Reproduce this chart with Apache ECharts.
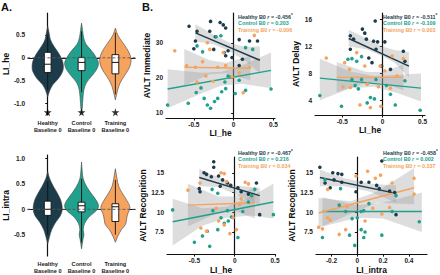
<!DOCTYPE html>
<html>
<head>
<meta charset="utf-8">
<script src="https://cdn.jsdelivr.net/npm/echarts@6/dist/echarts.min.js"></script>
<style>
html, body { margin: 0; padding: 0; background: #fff; }
#chart { width: 440px; height: 275px; }
</style>
</head>
<body>
<div id="chart"></div>
<script>
var FONT = '"Liberation Sans", Arial, sans-serif';
var groups = ['Healthy\nBaseline 0', 'Control\nBaseline 0', 'Training\nBaseline 0'];
var groupNames = ['Healthy', 'Control', 'Training'];
var colors = ['#1d3c4b', '#21a08d', '#f6a35e'];

// violin profiles: [y, half width] from top to bottom
var heProfiles = [
  [[0.69,0],[0.55,0.04],[0.4,0.08],[0.28,0.16],[0.15,0.28],[0,0.4],[-0.15,0.46],[-0.3,0.44],[-0.45,0.32],[-0.58,0.16],[-0.7,0.07],[-0.85,0]],
  [[0.76,0],[0.6,0.03],[0.45,0.06],[0.3,0.13],[0.15,0.3],[0,0.44],[-0.12,0.5],[-0.25,0.45],[-0.4,0.3],[-0.55,0.14],[-0.7,0.07],[-0.9,0.04],[-1.1,0.02],[-1.22,0]],
  [[0.65,0],[0.5,0.07],[0.35,0.2],[0.2,0.34],[0.05,0.44],[-0.1,0.46],[-0.25,0.39],[-0.4,0.26],[-0.55,0.14],[-0.7,0.07],[-0.92,0]]
];
// box: [whisker low, q1, median, q3, whisker high]
var heBoxes = [[-0.7,-0.32,-0.14,0.12,0.5],[-0.75,-0.28,-0.1,0.01,0.58],[-0.8,-0.35,-0.1,0.07,0.55]];
var heStars = [-1.19, -1.19, -1.19];

var intraProfiles = [
  [[0.74,0],[0.6,0.06],[0.45,0.17],[0.3,0.3],[0.15,0.4],[0,0.43],[-0.12,0.38],[-0.25,0.24],[-0.4,0.12],[-0.55,0.05],[-0.68,0]],
  [[0.93,0],[0.75,0.02],[0.6,0.05],[0.45,0.15],[0.3,0.3],[0.15,0.46],[0.05,0.5],[-0.05,0.4],[-0.15,0.22],[-0.28,0.09],[-0.4,0.05],[-0.5,0.07],[-0.6,0.04],[-0.78,0]],
  [[0.8,0],[0.6,0.05],[0.45,0.1],[0.3,0.22],[0.15,0.36],[0.03,0.43],[-0.1,0.36],[-0.2,0.33],[-0.3,0.3],[-0.4,0.18],[-0.52,0.08],[-0.65,0]]
];
var intraBoxes = [[-0.5,-0.12,0,0.16,0.55],[-0.65,-0.05,0.07,0.14,0.6],[-0.5,-0.24,0.05,0.11,0.58]];

// AVLT Immediate vs LI_he
var immHealthy = [[-0.56,34.7],[-0.46,33.3],[-0.29,36.1],[-0.17,35.8],[-0.13,35.1],[-0.10,34.2],[-0.30,33.3],[-0.23,31.7],[-0.25,28.1],[-0.12,27.2],[-0.10,26.3],[-0.07,27.7],[0.07,30.9],[0.20,30.5],[0.30,30.5],[0.11,25.3],[0.07,23.5],[-0.02,25.8],[-0.48,30.5],[-0.50,28.3]];
var immControl = [[-0.83,12.2],[-0.57,12.7],[-0.47,15.8],[-0.37,14.1],[-0.33,12.2],[-0.29,11.3],[-0.24,13.2],[-0.20,14.1],[-0.15,16.0],[0.02,15.5],[0.15,16.4],[0.47,16.8],[-0.41,17.1],[-0.46,29.1],[-0.39,27.4],[-0.11,18.8],[-0.04,20.2],[0.07,19.3],[0.15,28.6],[0.24,28.1],[-0.22,31.7],[-0.16,32.0],[-0.07,20.5],[-0.10,16.9]];
var immTraining = [[-0.74,27.7],[-0.59,23.5],[-0.33,30.0],[-0.30,28.1],[-0.35,20.5],[-0.46,18.8],[-0.39,24.6],[-0.20,23.0],[-0.10,23.5],[-0.02,20.2],[0.07,21.4],[0.12,15.7],[0.26,32.1],[0.20,23.0],[-0.48,23.0],[-0.26,19.0],[-0.13,27.2]];
var immFits = [[[-0.48,32.8],[0.33,25.0]],[[-0.83,16.8],[0.47,22.1]],[[-0.62,23.0],[0.21,22.7]]];
var immBands = [
  [[-0.48,30.4,35.3],[-0.25,29.6,32.3],[-0.05,27.5,30.0],[0.15,24.8,28.8],[0.33,21.2,29.0]],
  [[-0.83,11.3,22.4],[-0.4,15.6,21.4],[-0.15,17.8,21.7],[0.1,18.3,23.5],[0.47,17.0,27.2]],
  [[-0.62,17.8,28.2],[-0.3,21.0,25.0],[-0.1,21.3,24.3],[0.21,19.3,26.2]]
];
var immR = ['-0.456', '0.203', '-0.006'];

// AVLT Delay vs LI_he
var delayHealthy = [[-0.09,15.8],[-0.25,14.6],[-0.22,14.0],[-0.40,13.6],[-0.36,13.1],[-0.20,13.1],[-0.11,12.8],[-0.06,12.7],[0.03,12.7],[-0.08,11.6],[0.26,11.3],[0.28,9.8],[0.10,8.6],[-0.17,10.3],[-0.13,9.6],[-0.40,11.6],[-0.01,9.1]];
var delayControl = [[-0.78,4.7],[-0.51,3.1],[-0.38,10.2],[-0.32,9.8],[-0.26,10.5],[-0.15,4.4],[-0.10,4.2],[-0.19,3.6],[0.16,3.3],[0.10,4.9],[0.47,2.5],[-0.38,7.1],[-0.34,6.2],[-0.26,7.1],[-0.08,7.1],[0.05,6.2],[-0.30,5.7],[0.28,6.9],[-0.43,10.1]];
var delayTraining = [[-0.70,10.3],[-0.47,9.6],[-0.41,8.6],[-0.32,11.1],[-0.22,9.1],[-0.19,6.4],[-0.03,9.1],[0.03,8.4],[-0.28,3.3],[-0.15,2.9],[-0.02,3.1],[0.12,10.6],[0.26,10.2],[-0.49,6.0],[-0.40,5.9],[-0.05,6.0],[0.10,5.8],[0.18,7.6]];
var delayFits = [[[-0.42,13.2],[0.33,9.1]],[[-0.78,7.3],[0.48,5.8]],[[-0.57,7.4],[0.26,7.4]]];
var delayBands = [
  [[-0.42,12.0,14.5],[-0.2,11.6,13.2],[0,10.6,12.0],[0.15,9.6,11.5],[0.33,7.4,11.2]],
  [[-0.78,4.0,10.2],[-0.4,5.8,8.3],[-0.1,6.0,7.6],[0.2,5.0,7.8],[0.48,3.8,8.0]],
  [[-0.57,5.2,9.7],[-0.2,6.6,8.2],[0,6.6,8.2],[0.26,5.5,9.3]]
];
var delayR = ['-0.511', '-0.109', '0.003'];

// AVLT Recognition vs LI_he
var recHeHealthy = [[-0.26,16.4],[-0.26,15.7],[-0.38,15.0],[-0.35,14.8],[-0.29,14.5],[-0.20,14.6],[-0.15,14.1],[-0.09,13.7],[-0.05,13.4],[-0.43,12.6],[-0.44,13.0],[-0.18,13.3],[0.08,12.6],[0.27,13.7],[0.31,9.7],[0.04,13.1],[0.17,12.3]];
var recHeControl = [[-0.77,10.3],[-0.50,6.2],[-0.40,7.0],[-0.34,7.6],[-0.31,5.7],[-0.21,7.8],[-0.17,9.3],[-0.13,8.6],[-0.08,8.9],[-0.04,9.4],[0.04,6.8],[0.10,10.1],[0.17,11.3],[0.21,12.1],[0.48,9.7],[-0.21,12.4],[-0.28,12.9],[0.25,12.9],[-0.27,10.2],[-0.09,10.2]];
var recHeTraining = [[-0.58,12.8],[-0.43,13.7],[-0.17,15.0],[-0.13,14.9],[-0.10,13.9],[0.13,13.8],[0.17,13.6],[0.08,11.7],[0.06,11.0],[-0.42,8.0],[-0.35,7.6],[-0.20,8.9],[-0.13,8.4],[0.02,7.8],[-0.06,7.3],[-0.02,9.3],[-0.23,10.5]];
var recHeFits = [[[-0.44,14.4],[0.31,12.1]],[[-0.77,8.8],[0.48,11.3]],[[-0.58,10.9],[0.25,11.2]]];
var recHeBands = [
  [[-0.44,13.3,15.5],[-0.2,13.2,14.4],[0,12.3,13.4],[0.31,10.9,13.1]],
  [[-0.77,5.8,11.7],[-0.4,8.3,10.5],[-0.1,9.3,10.7],[0.2,9.6,12.0],[0.48,9.2,13.6]],
  [[-0.58,8.2,13.6],[-0.2,10.0,12.0],[0,10.2,12.0],[0.25,9.2,13.2]]
];
var recHeR = ['-0.467', '0.216', '0.034'];

// AVLT Recognition vs LI_intra
var recIntraHealthy = [[-0.29,15.7],[-0.19,15.0],[-0.15,14.9],[-0.12,14.8],[-0.18,14.1],[-0.21,13.1],[-0.12,13.8],[0.03,13.8],[0.09,13.8],[0.15,13.4],[0.19,16.5],[0.17,13.0],[0.25,12.7],[0.29,12.5],[0.30,9.7],[-0.25,13.7],[-0.01,12.6]];
var recIntraControl = [[-0.25,14.1],[-0.14,10.9],[-0.09,10.1],[-0.04,9.2],[0.00,9.3],[0.03,10.1],[0.05,10.2],[0.03,7.8],[0.06,7.5],[-0.02,5.8],[0.05,6.8],[0.19,7.1],[0.30,12.1],[0.27,10.1],[0.48,8.8],[-0.27,6.8],[-0.13,13.0],[0.09,11.1],[-0.06,7.1]];
var recIntraTraining = [[-0.30,8.1],[-0.27,7.9],[-0.23,9.3],[-0.14,7.2],[-0.08,10.7],[-0.01,14.6],[0.08,15.2],[0.14,14.3],[0.18,14.7],[0.06,8.9],[0.12,10.5],[0.19,9.8],[0.25,10.6],[0.27,13.7],[0.44,14.3],[0.44,12.3],[-0.23,12.9],[-0.09,7.8],[-0.21,9.0]];
var recIntraFits = [[[-0.29,14.4],[0.30,12.4]],[[-0.27,10.1],[0.50,10.1]],[[-0.30,9.9],[0.44,13.1]]];
var recIntraBands = [
  [[-0.29,13.3,15.4],[-0.1,13.3,14.3],[0.1,12.6,13.6],[0.3,11.2,13.4]],
  [[-0.27,8.2,11.9],[0,9.3,10.9],[0.2,9.2,11.2],[0.5,7.5,12.5]],
  [[-0.30,8.0,11.8],[-0.05,9.8,11.4],[0.15,11.2,12.6],[0.44,11.0,15.6]]
];
var recIntraR = ['-0.458', '0.002', '0.337'];

var chart = echarts.init(document.getElementById('chart'), null, { renderer: 'svg' });

var axisLine = { lineStyle: { color: '#111', width: 1.2 } };
var axisTick = { length: 2.5, lineStyle: { color: '#111', width: 1 } };
var tickFont = { fontSize: 6.5, fontWeight: 'bold', color: '#222', fontFamily: FONT };
var nameFont = { fontSize: 8.5, fontWeight: 'bold', color: '#111', fontFamily: FONT };

function fmt(v) { return v === 0 ? '0' : String(v); }

function valueAxis(grid, min, max, ticks, name, gap, formatter) {
  return {
    type: 'value', gridIndex: grid, min: min, max: max,
    name: name, nameLocation: 'middle', nameGap: gap, nameTextStyle: nameFont,
    axisLine: axisLine, axisTick: Object.assign({ customValues: ticks }, axisTick),
    axisLabel: Object.assign({ customValues: ticks, margin: 3, formatter: formatter || fmt }, tickFont),
    splitLine: { show: false }
  };
}

function violinSeries(grid, profiles, boxes) {
  return {
    type: 'custom', xAxisIndex: grid, yAxisIndex: grid, silent: true, z: 2,
    data: profiles.map(function (p, i) { return [i, p[0][0]]; }),
    renderItem: function (params, api) {
      var i = params.dataIndex, prof = profiles[i], b = boxes[i], bw = 0.1;
      var right = prof.map(function (p) { return api.coord([i + p[1], p[0]]); });
      var left = prof.slice().reverse().map(function (p) { return api.coord([i - p[1], p[0]]); });
      var top = api.coord([i - bw, b[3]]), bot = api.coord([i + bw, b[1]]);
      var med = api.coord([i, b[2]]);
      var wl = api.coord([i, b[0]]), wh = api.coord([i, b[4]]);
      return {
        type: 'group', children: [
          { type: 'polygon', shape: { points: right.concat(left), smooth: 0.35 }, style: { fill: colors[i], stroke: '#444', lineWidth: 0.6 } },
          { type: 'line', shape: { x1: wl[0], y1: wl[1], x2: wh[0], y2: wh[1] }, style: { stroke: '#111', lineWidth: 0.9 } },
          { type: 'rect', shape: { x: top[0], y: top[1], width: bot[0] - top[0], height: bot[1] - top[1] }, style: { fill: '#fff', stroke: '#111', lineWidth: 0.9 } },
          { type: 'line', shape: { x1: top[0], y1: med[1], x2: bot[0], y2: med[1] }, style: { stroke: '#111', lineWidth: 1 } }
        ]
      };
    }
  };
}

function zeroLine(grid) {
  return {
    type: 'line', xAxisIndex: grid, yAxisIndex: grid, silent: true, z: 3, symbol: 'none',
    data: [[-0.6, 0], [2.6, 0]],
    lineStyle: { color: '#555', width: 0.9, type: [3, 2] }
  };
}

function bandSeries(grid, band) {
  return {
    type: 'custom', xAxisIndex: grid, yAxisIndex: grid, silent: true, z: 1,
    data: [[band[0][0], band[0][1]]],
    renderItem: function (params, api) {
      var up = band.map(function (p) { return api.coord([p[0], p[2]]); });
      var low = band.slice().reverse().map(function (p) { return api.coord([p[0], p[1]]); });
      return { type: 'polygon', shape: { points: up.concat(low) }, style: { fill: 'rgba(150,150,150,0.32)' } };
    }
  };
}

function fitSeries(grid, fit, i) {
  return {
    type: 'line', xAxisIndex: grid, yAxisIndex: grid, silent: true, z: 3, symbol: 'none',
    data: fit, lineStyle: { color: colors[i], width: 1.4 }
  };
}

function pointSeries(grid, pts, i) {
  return {
    type: 'scatter', xAxisIndex: grid, yAxisIndex: grid, z: 4, symbolSize: 3.6,
    data: pts, itemStyle: { color: colors[i], opacity: 1 }
  };
}

function legendTexts(x, y, rs) {
  return rs.map(function (r, i) {
    var star = i === 0 ? '{s|*}' : '';
    return {
      type: 'text', left: x, top: y + i * 7,
      style: {
        text: '{n|' + groupNames[i] + ' B0 }{it|r}{n| = ' + r + '}' + star,
        rich: {
          n: { fontSize: 5.4, fontWeight: 'bold', fill: colors[i], fontFamily: FONT },
          it: { fontSize: 5.4, fontWeight: 'bold', fontStyle: 'italic', fill: colors[i], fontFamily: FONT },
          s: { fontSize: 4.5, fontWeight: 'bold', fill: colors[i], fontFamily: FONT, verticalAlign: 'top', padding: [0, 0, 3, 0] }
        }
      }
    };
  });
}

var scatterPanels = [
  { grid: 2, pts: [immHealthy, immControl, immTraining], fits: immFits, bands: immBands },
  { grid: 3, pts: [delayHealthy, delayControl, delayTraining], fits: delayFits, bands: delayBands },
  { grid: 4, pts: [recHeHealthy, recHeControl, recHeTraining], fits: recHeFits, bands: recHeBands },
  { grid: 5, pts: [recIntraHealthy, recIntraControl, recIntraTraining], fits: recIntraFits, bands: recIntraBands }
];

var series = [
  zeroLine(0), violinSeries(0, heProfiles, heBoxes),
  {
    type: 'scatter', xAxisIndex: 0, yAxisIndex: 0, z: 4, symbolSize: 8,
    symbol: 'path://M50,0 L61,35 L98,35 L68,57 L79,91 L50,70 L21,91 L32,57 L2,35 L39,35 Z',
    data: heStars.map(function (y, i) { return [i, y]; }), itemStyle: { color: '#000' }
  },
  zeroLine(1), violinSeries(1, intraProfiles, intraBoxes)
];
scatterPanels.forEach(function (p) {
  p.bands.forEach(function (b) { series.push(bandSeries(p.grid, b)); });
  p.fits.forEach(function (f, i) { series.push(fitSeries(p.grid, f, i)); });
  p.pts.forEach(function (d, i) { series.push(pointSeries(p.grid, d, i)); });
});

var catTicks = [0, 1, 2];
function catAxis(grid) {
  return {
    type: 'value', gridIndex: grid, min: -0.58, max: 2.58,
    axisLine: axisLine, axisTick: Object.assign({ customValues: catTicks }, axisTick),
    axisLabel: {
      customValues: catTicks, margin: 5, fontSize: 5.6, fontWeight: 'bold', color: '#222', fontFamily: FONT,
      lineHeight: 6.5, formatter: function (v) { return groups[Math.round(v)]; }
    },
    splitLine: { show: false }
  };
}

var option = {
  animation: false,
  backgroundColor: '#fff',
  textStyle: { fontFamily: FONT },
  grid: [
    { left: 26, top: 13, width: 109, height: 102 },
    { left: 26, top: 155, width: 109, height: 101 },
    { left: 166, top: 13, width: 109, height: 105 },
    { left: 315, top: 13, width: 110, height: 102 },
    { left: 167, top: 157, width: 108, height: 105 },
    { left: 316, top: 157, width: 111, height: 105 }
  ],
  xAxis: [
    catAxis(0), catAxis(1),
    valueAxis(2, -0.85, 0.52, [-0.5, 0, 0.5], 'LI_he', 9),
    valueAxis(3, -0.84, 0.53, [-0.5, 0, 0.5], 'LI_he', 9),
    valueAxis(4, -0.84, 0.5, [-0.5, 0, 0.5], 'LI_he', 9),
    valueAxis(5, -0.32, 0.54, [-0.2, 0, 0.2, 0.4], 'LI_intra', 9)
  ],
  yAxis: [
    valueAxis(0, -1.25, 0.98, [-1, -0.5, 0, 0.5], 'LI_he', 15, function (v) { return v === 0 ? '0' : v.toFixed(1).replace('-0.5', '-0.5').replace('0.50', '0.5'); }),
    valueAxis(1, -0.92, 1.07, [-0.5, 0, 0.5, 1], 'LI_intra', 15, function (v) { return v === 0 ? '0' : v.toFixed(1); }),
    valueAxis(2, 8.5, 38.5, [10, 20, 30], 'AVLT Immediate', 12),
    valueAxis(3, 1.8, 17, [4, 8, 12, 16], 'AVLT Delay', 12),
    valueAxis(4, 4.7, 17, [7.5, 10, 12.5, 15], 'AVLT Recognition', 15),
    valueAxis(5, 4.7, 17, [7.5, 10, 12.5, 15], 'AVLT Recognition', 15)
  ],
  graphic: [
    { type: 'text', left: 1, top: 1, style: { text: 'A.', font: 'bold 11px ' + FONT, fill: '#111' } },
    { type: 'text', left: 142, top: 1, style: { text: 'B.', font: 'bold 11px ' + FONT, fill: '#111' } }
  ].concat(legendTexts(238, 13, immR), legendTexts(383, 13, delayR), legendTexts(238, 149, recHeR), legendTexts(383, 149, recIntraR)),
  series: series
};

chart.setOption(option);
</script>
</body>
</html>
